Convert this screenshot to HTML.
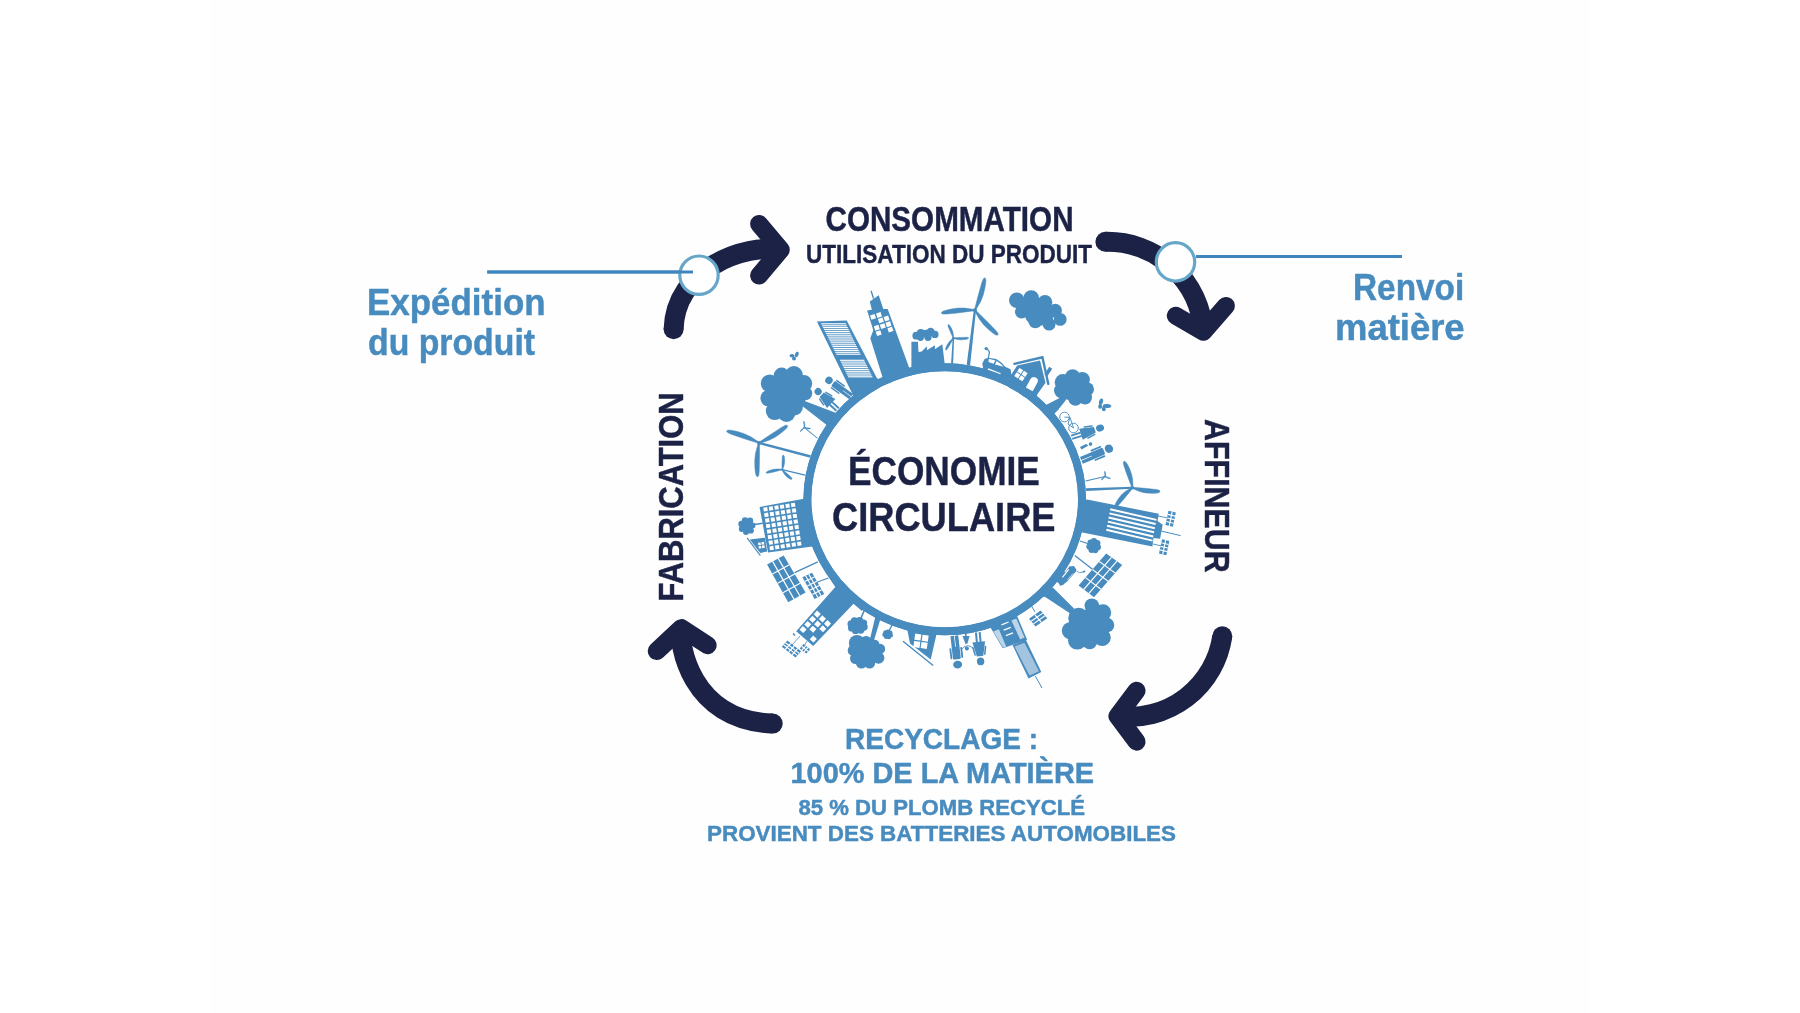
<!DOCTYPE html>
<html><head><meta charset="utf-8"><title>Economie circulaire</title>
<style>
html,body{margin:0;padding:0;width:1800px;height:1013px;overflow:hidden;background:#ffffff}
svg{position:absolute;left:0;top:0;display:block}
text{font-family:"Liberation Sans",sans-serif;font-weight:bold;paint-order:stroke;stroke-width:0.45px;stroke-linejoin:round}
svg{will-change:transform}
</style></head><body>
<svg width="1800" height="1013" viewBox="0 0 1800 1013">
<rect x="0" y="0" width="1800" height="1013" fill="#ffffff"/>
<rect x="210" y="0" width="1379" height="1013" fill="#fefefe"/>
<g fill="#1b2245"><circle cx="673.6" cy="329.3" r="10"/><circle cx="1105.4" cy="241.8" r="10"/><circle cx="1222.3" cy="636.3" r="10"/><circle cx="772.7" cy="723.6" r="10"/></g>
<g fill="none" stroke="#1b2245" stroke-width="20" stroke-linecap="butt" stroke-linejoin="round">
<path d="M673.6,329.3 C675.3,268.1 745.2,243.6 780.8,249.7"/>
<path d="M1105.4,241.8 A96.2,96.2 0 0 1 1203.3,331.8"/>
<path d="M1222.3,636.3 A94.2,94.2 0 0 1 1117.5,716.2"/>
<path d="M772.7,723.6 C689.6,720.6 678.2,642.1 681.3,628.1"/>
</g>
<g fill="none" stroke="#1b2245" stroke-width="18" stroke-linecap="round" stroke-linejoin="round">
<polyline points="759.1,224 780.8,249.7 759.1,275.5"/>
<polyline points="1175.8,315.8 1203.3,331.8 1225.9,305.9"/>
<polyline points="1136.6,690.7 1117.5,716.2 1136.6,741.7"/>
<polyline points="656.7,651.1 681.3,628.1 707.7,645.2"/>
</g>

<line x1="487.3" y1="272" x2="693" y2="272" stroke="#3f86bd" stroke-width="3"/>
<circle cx="699" cy="275.2" r="19.2" fill="#fff" stroke="#66a6c8" stroke-width="3.2"/>
<line x1="487.3" y1="272" x2="693" y2="272" stroke="#3f86bd" stroke-width="3"/>
<line x1="1196" y1="256.4" x2="1402" y2="256.4" stroke="#3f86bd" stroke-width="3"/>
<circle cx="1175.5" cy="261.9" r="19.2" fill="#fff" stroke="#66a6c8" stroke-width="3.2"/>

<ellipse cx="944.7" cy="499.3" rx="137.3" ry="132" fill="none" stroke="#478bbf" stroke-width="8"/>
<polygon points="816.9,321.5 846.7,320.6 877.0,378.3 885.0,382.0 862.0,402.0 853.2,395.5" fill="#478bbf"/>
<line x1="821.2" y1="323.8" x2="846.0" y2="323.8" stroke="#ffffff" stroke-width="1.15" stroke-linecap="butt"/><line x1="822.1" y1="325.8" x2="846.9" y2="325.8" stroke="#ffffff" stroke-width="1.15" stroke-linecap="butt"/><line x1="823.1" y1="327.6" x2="847.8" y2="327.6" stroke="#ffffff" stroke-width="1.15" stroke-linecap="butt"/><line x1="824.0" y1="329.5" x2="848.7" y2="329.5" stroke="#ffffff" stroke-width="1.15" stroke-linecap="butt"/><line x1="824.9" y1="331.4" x2="849.6" y2="331.4" stroke="#ffffff" stroke-width="1.15" stroke-linecap="butt"/><line x1="825.9" y1="333.3" x2="850.5" y2="333.3" stroke="#ffffff" stroke-width="1.15" stroke-linecap="butt"/><line x1="826.8" y1="335.2" x2="851.4" y2="335.2" stroke="#ffffff" stroke-width="1.15" stroke-linecap="butt"/><line x1="827.8" y1="337.1" x2="852.3" y2="337.1" stroke="#ffffff" stroke-width="1.15" stroke-linecap="butt"/><line x1="828.7" y1="339.0" x2="853.2" y2="339.0" stroke="#ffffff" stroke-width="1.15" stroke-linecap="butt"/><line x1="829.6" y1="340.9" x2="854.2" y2="340.9" stroke="#ffffff" stroke-width="1.15" stroke-linecap="butt"/><line x1="830.6" y1="342.8" x2="855.1" y2="342.8" stroke="#ffffff" stroke-width="1.15" stroke-linecap="butt"/><line x1="831.5" y1="344.8" x2="856.0" y2="344.8" stroke="#ffffff" stroke-width="1.15" stroke-linecap="butt"/><line x1="832.5" y1="346.6" x2="856.9" y2="346.6" stroke="#ffffff" stroke-width="1.15" stroke-linecap="butt"/><line x1="833.4" y1="348.6" x2="857.8" y2="348.6" stroke="#ffffff" stroke-width="1.15" stroke-linecap="butt"/><line x1="834.3" y1="350.4" x2="858.7" y2="350.4" stroke="#ffffff" stroke-width="1.15" stroke-linecap="butt"/><line x1="835.3" y1="352.3" x2="859.6" y2="352.3" stroke="#ffffff" stroke-width="1.15" stroke-linecap="butt"/><line x1="836.2" y1="354.2" x2="860.5" y2="354.2" stroke="#ffffff" stroke-width="1.15" stroke-linecap="butt"/>
<line x1="840.0" y1="360.3" x2="864.3" y2="360.3" stroke="#ffffff" stroke-width="1.15" stroke-linecap="butt"/><line x1="840.9" y1="362.1" x2="865.2" y2="362.1" stroke="#ffffff" stroke-width="1.15" stroke-linecap="butt"/><line x1="841.8" y1="364.0" x2="866.1" y2="364.0" stroke="#ffffff" stroke-width="1.15" stroke-linecap="butt"/><line x1="842.7" y1="365.8" x2="867.0" y2="365.8" stroke="#ffffff" stroke-width="1.15" stroke-linecap="butt"/><line x1="843.6" y1="367.6" x2="867.9" y2="367.6" stroke="#ffffff" stroke-width="1.15" stroke-linecap="butt"/><line x1="844.5" y1="369.5" x2="868.8" y2="369.5" stroke="#ffffff" stroke-width="1.15" stroke-linecap="butt"/><line x1="845.4" y1="371.3" x2="869.7" y2="371.3" stroke="#ffffff" stroke-width="1.15" stroke-linecap="butt"/><line x1="846.3" y1="373.1" x2="870.6" y2="373.1" stroke="#ffffff" stroke-width="1.15" stroke-linecap="butt"/><line x1="847.2" y1="375.0" x2="871.5" y2="375.0" stroke="#ffffff" stroke-width="1.15" stroke-linecap="butt"/><line x1="848.1" y1="376.8" x2="872.4" y2="376.8" stroke="#ffffff" stroke-width="1.15" stroke-linecap="butt"/>
<polygon points="869.8,301.4 878.7,295.2 883.3,309.0 887.7,309.0 908.9,367.1 912.0,376.0 884.0,385.0 882.3,376.6 870.3,338.3 873.3,330.2 867.1,310.6 871.9,309.8" fill="#478bbf"/>
<line x1="871.1" y1="290.8" x2="873.5" y2="298.5" stroke="#478bbf" stroke-width="1.3" stroke-linecap="butt"/>
<rect x="870.6" y="314.6" width="4.8" height="4.6" fill="#ffffff" transform="rotate(-18 873.0 316.9)" />
<rect x="876.6" y="312.7" width="4.8" height="4.6" fill="#ffffff" transform="rotate(-18 879.0 315.0)" />
<rect x="878.5" y="318.1" width="4.8" height="4.6" fill="#ffffff" transform="rotate(-18 880.9 320.4)" />
<rect x="884.2" y="316.2" width="4.8" height="4.6" fill="#ffffff" transform="rotate(-18 886.6 318.5)" />
<rect x="874.4" y="325.4" width="4.8" height="4.6" fill="#ffffff" transform="rotate(-18 876.8 327.7)" />
<rect x="880.4" y="323.8" width="4.8" height="4.6" fill="#ffffff" transform="rotate(-18 882.8 326.1)" />
<rect x="886.1" y="321.9" width="4.8" height="4.6" fill="#ffffff" transform="rotate(-18 888.5 324.2)" />
<rect x="876.3" y="330.8" width="4.8" height="4.6" fill="#ffffff" transform="rotate(-18 878.7 333.1)" />
<rect x="888.0" y="327.3" width="4.8" height="4.6" fill="#ffffff" transform="rotate(-18 890.4 329.6)" />
<polygon points="911.4,341.7 917.9,341.7 918.5,352.0 921.7,351.4 926.9,346.2 926.9,350.2 934.9,345.2 934.9,349.2 942.3,344.2 944.5,362.3 944.5,370.0 911.4,372.0" fill="#478bbf"/>
<circle cx="916.3" cy="335.7" r="3.9" fill="#478bbf"/><circle cx="920.8" cy="332.9" r="4.0" fill="#478bbf"/><circle cx="925.8" cy="333.6" r="3.9" fill="#478bbf"/><circle cx="930.6" cy="331.9" r="4.2" fill="#478bbf"/><circle cx="934.9" cy="334.4" r="3.7" fill="#478bbf"/><circle cx="920.5" cy="337.6" r="3.4" fill="#478bbf"/><circle cx="928.0" cy="337.3" r="3.6" fill="#478bbf"/>
<polygon points="953.1,364.1 954.1,338.2 952.7,338.2 951.1,363.9" fill="#478bbf"/><polygon points="953.7,338.1 953.5,336.3 953.2,333.6 952.5,330.8 951.3,328.1 950.1,326.1 949.3,325.0 948.6,324.5 948.1,324.7 947.9,325.4 948.4,326.9 949.7,330.3 951.1,333.6 952.5,336.7 953.1,338.3" fill="#478bbf" stroke="#478bbf" stroke-width="0.5" stroke-linejoin="round"/><polygon points="953.4,338.5 955.2,339.0 958.0,339.6 961.0,339.8 964.1,339.6 966.5,339.2 967.9,338.8 968.6,338.3 968.6,337.8 968.0,337.4 966.3,337.3 962.5,337.4 958.7,337.6 955.2,337.8 953.4,337.9" fill="#478bbf" stroke="#478bbf" stroke-width="0.5" stroke-linejoin="round"/><polygon points="953.1,338.0 951.8,339.2 949.9,341.0 948.2,343.2 946.8,345.6 945.9,347.7 945.6,349.0 945.6,349.8 946.1,350.1 946.7,349.8 947.6,348.6 949.5,345.6 951.2,342.6 952.8,339.8 953.7,338.4" fill="#478bbf" stroke="#478bbf" stroke-width="0.5" stroke-linejoin="round"/><circle cx="953.4" cy="338.2" r="1.35" fill="#478bbf"/>
<polygon points="970.1,365.2 976.0,310.3 973.8,310.1 966.7,364.8" fill="#478bbf"/><polygon points="975.5,310.4 977.6,306.8 980.7,301.4 983.2,295.1 984.8,288.6 985.7,283.2 985.9,280.1 985.4,278.2 984.4,277.9 983.3,278.9 981.9,282.4 979.6,290.5 977.4,298.6 975.5,306.1 974.3,310.0" fill="#478bbf" stroke="#478bbf" stroke-width="0.5" stroke-linejoin="round"/><polygon points="974.8,309.6 970.8,308.9 964.7,308.1 958.0,308.1 951.3,309.0 946.1,310.2 943.1,311.2 941.5,312.3 941.6,313.5 943.0,314.1 946.7,314.0 955.0,313.2 963.3,312.2 971.0,311.2 975.0,310.8" fill="#478bbf" stroke="#478bbf" stroke-width="0.5" stroke-linejoin="round"/><polygon points="974.5,310.6 976.5,314.2 979.6,319.6 983.8,324.9 988.6,329.6 992.8,333.0 995.4,334.7 997.3,335.3 998.1,334.5 997.8,333.0 995.4,330.1 989.6,324.1 983.6,318.1 978.1,312.7 975.3,309.8" fill="#478bbf" stroke="#478bbf" stroke-width="0.5" stroke-linejoin="round"/><circle cx="974.9" cy="310.2" r="1.9800000000000002" fill="#478bbf"/>
<polygon points="982.3,363.6 984.6,359.1 988.3,357.8 996.3,359.1 1001.7,362.7 1005.2,366.7 1010.6,369.3 1011.0,372.0 1012.0,378.0 990.0,378.0 983.0,368.0" fill="#478bbf"/><polygon points="988.8,358.8 995.5,360.5 993.5,363.8 988.5,362.0" fill="#ffffff"/><polygon points="996.6,361.0 1001.0,364.0 1003.5,366.8 995.0,364.5" fill="#ffffff"/><polygon points="988.4,368.2 1000.8,373.2 999.8,375.2 987.4,370.0" fill="#ffffff"/>
<path d="M988.3,358 L989.4,353 Q989.5,350.5 986.5,348.8" fill="none" stroke="#478bbf" stroke-width="1.2"/>
<circle cx="986.2" cy="348.6" r="1.7" fill="#478bbf"/>
<polygon points="1009.6,377.3 1017.2,365.6 1040.0,360.4 1045.5,382.8 1037.2,394.6 1036.0,401.0 1008.0,392.0" fill="#478bbf"/>
<polyline points="1014.4,363.8 1042.4,357.3 1048.3,383.9" fill="none" stroke="#478bbf" stroke-width="2.4" stroke-linecap="round"/>
<rect x="1046.5" y="367.0" width="3.6" height="9.0" fill="#478bbf" transform="rotate(33 1048.3 371.5)" />
<path d="M-3.9,5 L-3.9,-4.5 A3.9,3.9 0 0 1 3.9,-4.5 L3.9,5Z" fill="#ffffff" transform="translate(1031.7,384.9) rotate(29)"/>
<g transform="rotate(33 1021.0 374.6)"><rect x="1016.1" y="369.8" width="4.4" height="4.4" fill="#ffffff"/><rect x="1021.4" y="369.8" width="4.4" height="4.4" fill="#ffffff"/><rect x="1016.1" y="375.1" width="4.4" height="4.4" fill="#ffffff"/><rect x="1021.4" y="375.1" width="4.4" height="4.4" fill="#ffffff"/></g>
<circle cx="1038.0" cy="312.0" r="14.0" fill="#478bbf"/><circle cx="1016.8" cy="300.2" r="7.8" fill="#478bbf"/><circle cx="1031.2" cy="298.0" r="7.8" fill="#478bbf"/><circle cx="1045.0" cy="302.2" r="7.3" fill="#478bbf"/><circle cx="1055.3" cy="310.4" r="6.6" fill="#478bbf"/><circle cx="1060.2" cy="319.4" r="6.4" fill="#478bbf"/><circle cx="1049.1" cy="324.2" r="6.4" fill="#478bbf"/><circle cx="1035.3" cy="321.5" r="6.8" fill="#478bbf"/><circle cx="1021.5" cy="311.8" r="6.6" fill="#478bbf"/><circle cx="1024.0" cy="306.0" r="7.0" fill="#478bbf"/><circle cx="1047.0" cy="313.0" r="8.0" fill="#478bbf"/>
<polygon points="1063.5,396.0 1067.5,398.0 1058.0,410.0 1052.0,416.0 1044.0,406.0" fill="#478bbf"/>
<circle cx="1074.0" cy="389.2" r="12.4" fill="#478bbf"/><circle cx="1063.0" cy="382.3" r="8.3" fill="#478bbf"/><circle cx="1072.6" cy="376.8" r="7.6" fill="#478bbf"/><circle cx="1082.3" cy="379.5" r="7.6" fill="#478bbf"/><circle cx="1087.1" cy="389.2" r="6.9" fill="#478bbf"/><circle cx="1085.1" cy="397.5" r="6.9" fill="#478bbf"/><circle cx="1075.4" cy="398.9" r="6.9" fill="#478bbf"/><circle cx="1061.6" cy="390.6" r="7.6" fill="#478bbf"/>
<ellipse cx="1101" cy="401.8" rx="2" ry="3.4" transform="rotate(15 1101 401.8)" fill="#478bbf"/><ellipse cx="1107" cy="406" rx="4.3" ry="2" transform="rotate(5 1107 406)" fill="#478bbf"/><ellipse cx="1100.2" cy="406.5" rx="2" ry="2.2" fill="#478bbf"/><ellipse cx="1103.8" cy="409" rx="2" ry="2.2" fill="#478bbf"/>
<circle cx="1064.5" cy="417" r="4.8" fill="none" stroke="#478bbf" stroke-width="0.9"/>
<circle cx="1073.5" cy="428" r="4.8" fill="none" stroke="#478bbf" stroke-width="0.9"/>
<polyline points="1064.5,417 1070,417.5 1073.5,428 1068,424 1070,417.5" fill="none" stroke="#478bbf" stroke-width="0.9"/>
<g transform="translate(1071.6 437.3) rotate(72.0) scale(1.10 1.30)" fill="#478bbf"><circle cx="0" cy="-23" r="3.1"/><polygon points="-2.7,-18.8 2.7,-18.8 5.3,-7.6 -5.3,-7.6"/><rect x="-4.6" y="-18.2" width="1.3" height="7.2" rx="0.6" transform="rotate(12 -4 -18)"/><rect x="3.3" y="-18.2" width="1.3" height="7.2" rx="0.6" transform="rotate(-12 4 -18)"/><rect x="-2.4" y="-7.8" width="1.7" height="7.8"/><rect x="0.7" y="-7.8" width="1.7" height="7.8"/></g>
<g transform="translate(1081.4 460.4) rotate(67.0) scale(1.35 1.30)" fill="#478bbf"><circle cx="0" cy="-23" r="3.1"/><rect x="-2.7" y="-18.8" width="5.4" height="10" rx="1.1"/><rect x="-4.4" y="-18.2" width="1.25" height="8.8" rx="0.6"/><rect x="3.15" y="-18.2" width="1.25" height="8.8" rx="0.6"/><rect x="-2.7" y="-9.6" width="2.45" height="9.6"/><rect x="0.25" y="-9.6" width="2.45" height="9.6"/></g>
<circle cx="1090.5" cy="444.1" r="1.8" fill="#478bbf"/>
<polygon points="1080.0,447.0 1086.0,444.0 1088.5,445.5 1081.5,449.5" fill="#478bbf"/>
<polygon points="1085.7,481.5 1105.3,476.9 1105.1,476.1 1085.5,480.5" fill="#478bbf"/><polygon points="1105.3,476.5 1105.5,475.9 1105.7,474.9 1105.7,473.9 1105.5,472.9 1105.3,472.1 1105.1,471.6 1104.8,471.4 1104.6,471.4 1104.5,471.6 1104.5,472.2 1104.6,473.5 1104.8,474.7 1105.0,475.9 1105.1,476.5" fill="#478bbf" stroke="#478bbf" stroke-width="0.5" stroke-linejoin="round"/><polygon points="1105.2,476.6 1105.7,477.1 1106.6,477.7 1107.6,478.2 1108.7,478.5 1109.6,478.7 1110.1,478.7 1110.5,478.6 1110.5,478.4 1110.4,478.2 1109.8,477.9 1108.5,477.4 1107.1,477.0 1105.9,476.6 1105.2,476.4" fill="#478bbf" stroke="#478bbf" stroke-width="0.5" stroke-linejoin="round"/><polygon points="1105.1,476.4 1104.5,476.7 1103.7,477.1 1102.9,477.7 1102.2,478.5 1101.7,479.1 1101.4,479.6 1101.4,479.9 1101.6,480.1 1101.8,480.0 1102.3,479.7 1103.2,478.8 1104.0,477.9 1104.9,477.0 1105.3,476.6" fill="#478bbf" stroke="#478bbf" stroke-width="0.5" stroke-linejoin="round"/><circle cx="1105.2" cy="476.5" r="1" fill="#478bbf"/>
<polygon points="1086.1,490.9 1132.4,488.8 1132.4,486.8 1085.9,488.3" fill="#478bbf"/><polygon points="1132.9,487.6 1132.9,484.2 1132.6,479.1 1131.4,473.7 1129.5,468.5 1127.5,464.5 1126.0,462.3 1124.7,461.3 1123.7,461.6 1123.3,462.9 1124.0,465.9 1126.2,472.4 1128.6,478.9 1130.8,484.8 1131.9,488.0" fill="#478bbf" stroke="#478bbf" stroke-width="0.5" stroke-linejoin="round"/><polygon points="1132.3,488.4 1135.5,489.8 1140.3,491.7 1145.7,492.9 1151.3,493.3 1155.8,493.2 1158.3,492.8 1159.8,492.0 1160.0,491.0 1158.9,490.1 1156.0,489.5 1149.1,488.7 1142.1,488.1 1135.8,487.6 1132.5,487.2" fill="#478bbf" stroke="#478bbf" stroke-width="0.5" stroke-linejoin="round"/><polygon points="1132.0,487.4 1129.2,489.0 1125.3,491.5 1121.5,494.8 1118.4,498.7 1116.2,502.2 1115.3,504.3 1115.1,505.9 1115.9,506.6 1117.1,506.3 1119.2,504.5 1123.3,499.8 1127.2,494.9 1130.9,490.4 1132.8,488.2" fill="#478bbf" stroke="#478bbf" stroke-width="0.5" stroke-linejoin="round"/><circle cx="1132.4" cy="487.8" r="1.8" fill="#478bbf"/>
<polygon points="1087.0,499.6 1158.8,513.7 1157.5,521.0 1162.7,524.7 1160.1,538.8 1153.5,538.0 1152.4,546.5 1082.5,532.4 1078.0,530.0 1078.0,502.0" fill="#478bbf"/>
<line x1="1110.2" y1="509.3" x2="1156.4" y2="519.9" stroke="#ffffff" stroke-width="2.0" stroke-linecap="butt"/>
<line x1="1109.4" y1="513.4" x2="1155.6" y2="524.0" stroke="#ffffff" stroke-width="2.0" stroke-linecap="butt"/>
<line x1="1108.6" y1="517.5" x2="1154.8" y2="528.2" stroke="#ffffff" stroke-width="2.0" stroke-linecap="butt"/>
<line x1="1107.9" y1="521.6" x2="1154.1" y2="532.3" stroke="#ffffff" stroke-width="2.0" stroke-linecap="butt"/>
<line x1="1107.1" y1="525.7" x2="1153.3" y2="536.5" stroke="#ffffff" stroke-width="2.0" stroke-linecap="butt"/>
<line x1="1106.3" y1="529.8" x2="1152.5" y2="540.6" stroke="#ffffff" stroke-width="2.0" stroke-linecap="butt"/>
<line x1="1161.4" y1="531.1" x2="1180.6" y2="535.6" stroke="#478bbf" stroke-width="1.0" stroke-linecap="butt"/>
<line x1="1158.0" y1="516.0" x2="1168.0" y2="518.0" stroke="#478bbf" stroke-width="0.9" stroke-linecap="butt"/>
<line x1="1153.0" y1="544.0" x2="1162.0" y2="546.0" stroke="#478bbf" stroke-width="0.9" stroke-linecap="butt"/>
<polygon points="1168.5,510.8 1175.8,512.5 1172.8,526.8 1165.5,525.1" fill="#478bbf"/><line x1="1172.2" y1="511.6" x2="1169.2" y2="526.0" stroke="#ffffff" stroke-width="1.15" stroke-linecap="butt"/><line x1="1167.8" y1="514.4" x2="1175.0" y2="516.1" stroke="#ffffff" stroke-width="1.15" stroke-linecap="butt"/><line x1="1167.0" y1="518.0" x2="1174.3" y2="519.6" stroke="#ffffff" stroke-width="1.15" stroke-linecap="butt"/><line x1="1166.2" y1="521.5" x2="1173.5" y2="523.2" stroke="#ffffff" stroke-width="1.15" stroke-linecap="butt"/>
<polygon points="1162.0,539.2 1169.3,540.9 1166.3,555.2 1159.0,553.5" fill="#478bbf"/><line x1="1165.7" y1="540.0" x2="1162.7" y2="554.4" stroke="#ffffff" stroke-width="1.15" stroke-linecap="butt"/><line x1="1161.2" y1="542.8" x2="1168.5" y2="544.5" stroke="#ffffff" stroke-width="1.15" stroke-linecap="butt"/><line x1="1160.5" y1="546.4" x2="1167.8" y2="548.0" stroke="#ffffff" stroke-width="1.15" stroke-linecap="butt"/><line x1="1159.8" y1="549.9" x2="1167.0" y2="551.6" stroke="#ffffff" stroke-width="1.15" stroke-linecap="butt"/>
<line x1="1080.0" y1="541.0" x2="1089.0" y2="544.0" stroke="#478bbf" stroke-width="1.3" stroke-linecap="butt"/>
<ellipse cx="1093.7" cy="545.8" rx="5.9" ry="6.2" fill="#478bbf" transform="rotate(0 1093.7 545.8)"/><circle cx="1097.8" cy="547.2" r="3.1" fill="#478bbf"/><circle cx="1095.3" cy="550.1" r="3.1" fill="#478bbf"/><circle cx="1091.5" cy="549.8" r="3.1" fill="#478bbf"/><circle cx="1089.4" cy="546.5" r="3.1" fill="#478bbf"/><circle cx="1090.6" cy="542.7" r="3.1" fill="#478bbf"/><circle cx="1094.0" cy="541.2" r="3.1" fill="#478bbf"/><circle cx="1097.3" cy="543.2" r="3.1" fill="#478bbf"/>
<line x1="1074.8" y1="555.5" x2="1094.7" y2="570.9" stroke="#478bbf" stroke-width="1.3" stroke-linecap="butt"/>
<polygon points="1106.2,553.5 1122.2,565.1 1094.0,597.2 1078.6,585.6" fill="#478bbf"/><line x1="1111.5" y1="557.4" x2="1083.7" y2="589.5" stroke="#ffffff" stroke-width="1.15" stroke-linecap="butt"/><line x1="1116.9" y1="561.2" x2="1088.9" y2="593.3" stroke="#ffffff" stroke-width="1.15" stroke-linecap="butt"/><line x1="1099.3" y1="561.5" x2="1115.2" y2="573.1" stroke="#ffffff" stroke-width="1.15" stroke-linecap="butt"/><line x1="1092.4" y1="569.5" x2="1108.1" y2="581.2" stroke="#ffffff" stroke-width="1.15" stroke-linecap="butt"/><line x1="1085.5" y1="577.6" x2="1101.0" y2="589.2" stroke="#ffffff" stroke-width="1.15" stroke-linecap="butt"/>
<polygon points="1069.2,566.4 1073.9,566.0 1076.3,569.6 1075.9,571.6 1073.1,574.7 1067.6,581.0 1062.9,585.0 1060.1,585.8 1058.9,583.4 1055.0,580.0 1061.0,573.0 1066.0,571.6" fill="#478bbf"/>
<line x1="1068.8" y1="569.4" x2="1062.4" y2="577.4" stroke="#ffffff" stroke-width="1.2" stroke-linecap="butt"/>
<line x1="1073.0" y1="573.5" x2="1067.5" y2="579.8" stroke="#ffffff" stroke-width="0.7" stroke-linecap="butt"/>
<path d="M1076.4,571 Q1079,574 1083.5,572" fill="none" stroke="#478bbf" stroke-width="0.8"/><ellipse cx="1084" cy="571.6" rx="1.4" ry="0.9" transform="rotate(-20 1084 571.6)" fill="#478bbf"/>
<polygon points="1040.0,583.0 1053.1,587.8 1074.0,608.5 1071.0,614.0 1044.8,596.7 1034.0,598.0" fill="#478bbf"/>
<circle cx="1089.7" cy="626.5" r="17.0" fill="#478bbf"/><circle cx="1091.8" cy="605.7" r="7.3" fill="#478bbf"/><circle cx="1102.9" cy="612.6" r="8.3" fill="#478bbf"/><circle cx="1107.0" cy="625.1" r="7.3" fill="#478bbf"/><circle cx="1102.2" cy="637.5" r="8.6" fill="#478bbf"/><circle cx="1089.7" cy="641.6" r="7.6" fill="#478bbf"/><circle cx="1077.3" cy="640.3" r="9.3" fill="#478bbf"/><circle cx="1070.4" cy="630.6" r="8.6" fill="#478bbf"/><circle cx="1078.7" cy="618.2" r="10.4" fill="#478bbf"/>
<line x1="1030.4" y1="604.0" x2="1035.0" y2="612.0" stroke="#478bbf" stroke-width="1.0" stroke-linecap="butt"/>
<polygon points="1040.6,610.5 1047.2,618.3 1035.6,626.5 1029.0,618.7" fill="#478bbf"/><line x1="1042.8" y1="613.1" x2="1031.2" y2="621.3" stroke="#ffffff" stroke-width="1.15" stroke-linecap="butt"/><line x1="1045.0" y1="615.7" x2="1033.4" y2="623.9" stroke="#ffffff" stroke-width="1.15" stroke-linecap="butt"/><line x1="1034.8" y1="614.6" x2="1041.4" y2="622.4" stroke="#ffffff" stroke-width="1.15" stroke-linecap="butt"/>
<polygon points="989.0,625.0 1016.3,614.0 1027.2,639.9 1002.8,648.3" fill="#478bbf"/>
<polygon points="993.4,631.5 998.9,629.3 1006.2,646.5 1003.2,647.8" fill="#bcd5e8"/>
<polygon points="1011.4,620.5 1016.3,618.6 1024.5,637.6 1020.2,639.4" fill="#bcd5e8"/>
<line x1="1001.5" y1="624.8" x2="1008.6" y2="622.0" stroke="#ffffff" stroke-width="1.3" stroke-linecap="butt"/>
<line x1="1003.7" y1="630.2" x2="1010.8" y2="627.4" stroke="#ffffff" stroke-width="1.3" stroke-linecap="butt"/>
<line x1="1005.9" y1="635.6" x2="1013.0" y2="632.8" stroke="#ffffff" stroke-width="1.3" stroke-linecap="butt"/>
<polygon points="1012.5,645.1 1025.9,639.9 1041.3,672.0 1028.5,678.4" fill="#478bbf"/>
<polygon points="1014.6,646.6 1024.4,642.8 1039.0,671.2 1029.5,675.6" fill="#a3c4df"/>
<line x1="1035.3" y1="676.0" x2="1042.0" y2="688.0" stroke="#478bbf" stroke-width="1.0" stroke-linecap="butt"/>
<g transform="translate(954.3 635.8) rotate(173.4) scale(1.45 1.26)" fill="#478bbf"><circle cx="0" cy="-23" r="3.1"/><rect x="-2.7" y="-18.8" width="5.4" height="10" rx="1.1"/><rect x="-4.4" y="-18.2" width="1.25" height="8.8" rx="0.6"/><rect x="3.15" y="-18.2" width="1.25" height="8.8" rx="0.6"/><rect x="-2.7" y="-9.6" width="2.45" height="9.6"/><rect x="0.25" y="-9.6" width="2.45" height="9.6"/></g>
<g transform="translate(977.8 632.3) rotate(174.5) scale(1.20 1.27)" fill="#478bbf"><circle cx="0" cy="-23" r="3.1"/><polygon points="-2.7,-18.8 2.7,-18.8 5.3,-7.6 -5.3,-7.6"/><rect x="-4.6" y="-18.2" width="1.3" height="7.2" rx="0.6" transform="rotate(12 -4 -18)"/><rect x="3.3" y="-18.2" width="1.3" height="7.2" rx="0.6" transform="rotate(-12 4 -18)"/><rect x="-2.4" y="-7.8" width="1.7" height="7.8"/><rect x="0.7" y="-7.8" width="1.7" height="7.8"/></g>
<polygon points="962.5,636.0 969.5,636.0 967.5,643.5 965.5,644.0" fill="#478bbf"/>
<line x1="965.5" y1="633.0" x2="966.0" y2="637.0" stroke="#478bbf" stroke-width="1.6" stroke-linecap="butt"/>
<circle cx="966.9" cy="648.4" r="2" fill="#478bbf"/>
<path d="M961,650 Q966.5,642.5 973,648" fill="none" stroke="#478bbf" stroke-width="0.9"/>
<polygon points="907.0,628.0 937.0,632.0 930.7,659.6 910.0,643.5" fill="#478bbf"/>
<line x1="903.0" y1="641.3" x2="933.2" y2="665.5" stroke="#478bbf" stroke-width="1.4" stroke-linecap="butt"/>
<g transform="rotate(8 921.0 641.3)"><rect x="914.2" y="634.5" width="6.2" height="6.2" fill="#ffffff"/><rect x="921.6" y="634.5" width="6.2" height="6.2" fill="#ffffff"/><rect x="914.2" y="641.9" width="6.2" height="6.2" fill="#ffffff"/><rect x="921.6" y="641.9" width="6.2" height="6.2" fill="#ffffff"/></g>
<polygon points="876.0,614.0 881.0,617.0 873.5,642.0 869.5,641.0" fill="#478bbf"/>
<circle cx="865.9" cy="651.9" r="12.6" fill="#478bbf"/><circle cx="857.0" cy="643.0" r="8.1" fill="#478bbf"/><circle cx="853.3" cy="650.4" r="5.6" fill="#478bbf"/><circle cx="855.6" cy="658.5" r="5.6" fill="#478bbf"/><circle cx="861.5" cy="663.0" r="5.6" fill="#478bbf"/><circle cx="869.6" cy="663.0" r="5.6" fill="#478bbf"/><circle cx="878.5" cy="657.8" r="5.9" fill="#478bbf"/><circle cx="880.0" cy="648.9" r="5.2" fill="#478bbf"/><circle cx="874.8" cy="644.4" r="4.6" fill="#478bbf"/><circle cx="866.0" cy="642.0" r="6.0" fill="#478bbf"/>
<line x1="864.5" y1="610.0" x2="860.5" y2="619.0" stroke="#478bbf" stroke-width="1.6" stroke-linecap="butt"/>
<ellipse cx="857.6" cy="625.5" rx="8.3" ry="7.0" fill="#478bbf" transform="rotate(0 857.6 625.5)"/><circle cx="864.0" cy="627.0" r="3.7" fill="#478bbf"/><circle cx="860.7" cy="630.0" r="3.7" fill="#478bbf"/><circle cx="855.6" cy="630.4" r="3.7" fill="#478bbf"/><circle cx="851.7" cy="627.9" r="3.7" fill="#478bbf"/><circle cx="851.2" cy="624.0" r="3.7" fill="#478bbf"/><circle cx="854.5" cy="621.0" r="3.7" fill="#478bbf"/><circle cx="859.6" cy="620.6" r="3.7" fill="#478bbf"/><circle cx="863.5" cy="623.1" r="3.7" fill="#478bbf"/>
<line x1="892.0" y1="625.0" x2="888.5" y2="632.0" stroke="#478bbf" stroke-width="1.4" stroke-linecap="butt"/>
<ellipse cx="887.7" cy="634.4" rx="4.3" ry="4.0" fill="#478bbf" transform="rotate(0 887.7 634.4)"/><circle cx="890.8" cy="635.2" r="2.2" fill="#478bbf"/><circle cx="888.9" cy="637.0" r="2.2" fill="#478bbf"/><circle cx="886.1" cy="636.8" r="2.2" fill="#478bbf"/><circle cx="884.5" cy="634.8" r="2.2" fill="#478bbf"/><circle cx="885.4" cy="632.5" r="2.2" fill="#478bbf"/><circle cx="887.9" cy="631.6" r="2.2" fill="#478bbf"/><circle cx="890.3" cy="632.8" r="2.2" fill="#478bbf"/>
<polygon points="828.0,576.0 835.3,587.1 796.2,631.3 813.2,646.0 853.5,603.7 862.0,611.0 872.0,592.0" fill="#478bbf"/>
<g transform="rotate(42.7 815.3 626.6)"><rect x="805.8" y="613.6" width="5.0" height="5.0" fill="#ffffff"/><rect x="812.8" y="613.6" width="5.0" height="5.0" fill="#ffffff"/><rect x="819.8" y="613.6" width="5.0" height="5.0" fill="#ffffff"/><rect x="805.8" y="620.6" width="5.0" height="5.0" fill="#ffffff"/><rect x="812.8" y="620.6" width="5.0" height="5.0" fill="#ffffff"/><rect x="819.8" y="620.6" width="5.0" height="5.0" fill="#ffffff"/><rect x="805.8" y="627.6" width="5.0" height="5.0" fill="#ffffff"/><rect x="812.8" y="627.6" width="5.0" height="5.0" fill="#ffffff"/><rect x="805.8" y="634.6" width="5.0" height="5.0" fill="#ffffff"/><rect x="819.8" y="634.6" width="5.0" height="5.0" fill="#ffffff"/></g>
<line x1="800.0" y1="636.0" x2="792.0" y2="645.0" stroke="#478bbf" stroke-width="0.8" stroke-linecap="butt"/>
<line x1="807.0" y1="641.0" x2="803.0" y2="648.0" stroke="#478bbf" stroke-width="0.8" stroke-linecap="butt"/>
<polygon points="787.3,640.6 801.1,651.3 795.6,657.5 781.8,646.8" fill="#478bbf"/><line x1="790.8" y1="643.3" x2="785.2" y2="649.5" stroke="#ffffff" stroke-width="1.15" stroke-linecap="butt"/><line x1="794.2" y1="646.0" x2="788.7" y2="652.1" stroke="#ffffff" stroke-width="1.15" stroke-linecap="butt"/><line x1="797.6" y1="648.6" x2="792.1" y2="654.8" stroke="#ffffff" stroke-width="1.15" stroke-linecap="butt"/><line x1="785.5" y1="642.7" x2="799.3" y2="653.4" stroke="#ffffff" stroke-width="1.15" stroke-linecap="butt"/><line x1="783.6" y1="644.7" x2="797.4" y2="655.4" stroke="#ffffff" stroke-width="1.15" stroke-linecap="butt"/>
<polygon points="803.6,644.1 810.2,649.2 806.3,653.6 799.7,648.5" fill="#478bbf"/><line x1="805.8" y1="645.8" x2="801.9" y2="650.2" stroke="#ffffff" stroke-width="1.15" stroke-linecap="butt"/><line x1="808.0" y1="647.5" x2="804.1" y2="651.9" stroke="#ffffff" stroke-width="1.15" stroke-linecap="butt"/><line x1="801.7" y1="646.3" x2="808.2" y2="651.4" stroke="#ffffff" stroke-width="1.15" stroke-linecap="butt"/>
<rect x="793.2" y="633.2" width="1.6" height="2.6" fill="#478bbf" transform="rotate(-40 794.0 634.5)" />
<line x1="794.7" y1="572.7" x2="817.8" y2="561.8" stroke="#478bbf" stroke-width="1.3" stroke-linecap="butt"/>
<polygon points="767.1,564.4 783.7,555.4 805.6,592.6 788.2,602.3" fill="#478bbf"/><line x1="772.6" y1="561.4" x2="794.0" y2="599.1" stroke="#ffffff" stroke-width="1.15" stroke-linecap="butt"/><line x1="778.2" y1="558.4" x2="799.8" y2="595.8" stroke="#ffffff" stroke-width="1.15" stroke-linecap="butt"/><line x1="772.4" y1="573.9" x2="789.2" y2="564.7" stroke="#ffffff" stroke-width="1.15" stroke-linecap="butt"/><line x1="777.7" y1="583.3" x2="794.7" y2="574.0" stroke="#ffffff" stroke-width="1.15" stroke-linecap="butt"/><line x1="782.9" y1="592.8" x2="800.1" y2="583.3" stroke="#ffffff" stroke-width="1.15" stroke-linecap="butt"/>
<line x1="812.0" y1="584.0" x2="828.5" y2="577.9" stroke="#478bbf" stroke-width="1.1" stroke-linecap="butt"/>
<polygon points="802.4,577.2 812.0,572.7 824.2,593.9 814.6,599.0" fill="#478bbf"/><line x1="805.6" y1="575.7" x2="817.8" y2="597.3" stroke="#ffffff" stroke-width="1.15" stroke-linecap="butt"/><line x1="808.8" y1="574.2" x2="821.0" y2="595.6" stroke="#ffffff" stroke-width="1.15" stroke-linecap="butt"/><line x1="804.8" y1="581.6" x2="814.4" y2="576.9" stroke="#ffffff" stroke-width="1.15" stroke-linecap="butt"/><line x1="807.3" y1="585.9" x2="816.9" y2="581.2" stroke="#ffffff" stroke-width="1.15" stroke-linecap="butt"/><line x1="809.7" y1="590.3" x2="819.3" y2="585.4" stroke="#ffffff" stroke-width="1.15" stroke-linecap="butt"/><line x1="812.2" y1="594.6" x2="821.8" y2="589.7" stroke="#ffffff" stroke-width="1.15" stroke-linecap="butt"/>
<polygon points="759.6,507.0 808.0,498.0 816.0,546.0 768.0,552.4" fill="#478bbf"/>
<g transform="rotate(-9 782.4 526.5)"><rect x="766.4" y="504.9" width="4.0" height="4.0" fill="#ffffff"/><rect x="772.0" y="504.9" width="4.0" height="4.0" fill="#ffffff"/><rect x="777.6" y="504.9" width="4.0" height="4.0" fill="#ffffff"/><rect x="783.2" y="504.9" width="4.0" height="4.0" fill="#ffffff"/><rect x="788.8" y="504.9" width="4.0" height="4.0" fill="#ffffff"/><rect x="794.4" y="504.9" width="4.0" height="4.0" fill="#ffffff"/><rect x="766.4" y="510.5" width="4.0" height="4.0" fill="#ffffff"/><rect x="772.0" y="510.5" width="4.0" height="4.0" fill="#ffffff"/><rect x="777.6" y="510.5" width="4.0" height="4.0" fill="#ffffff"/><rect x="783.2" y="510.5" width="4.0" height="4.0" fill="#ffffff"/><rect x="788.8" y="510.5" width="4.0" height="4.0" fill="#ffffff"/><rect x="794.4" y="510.5" width="4.0" height="4.0" fill="#ffffff"/><rect x="766.4" y="516.1" width="4.0" height="4.0" fill="#ffffff"/><rect x="772.0" y="516.1" width="4.0" height="4.0" fill="#ffffff"/><rect x="777.6" y="516.1" width="4.0" height="4.0" fill="#ffffff"/><rect x="783.2" y="516.1" width="4.0" height="4.0" fill="#ffffff"/><rect x="788.8" y="516.1" width="4.0" height="4.0" fill="#ffffff"/><rect x="794.4" y="516.1" width="4.0" height="4.0" fill="#ffffff"/><rect x="766.4" y="521.7" width="4.0" height="4.0" fill="#ffffff"/><rect x="772.0" y="521.7" width="4.0" height="4.0" fill="#ffffff"/><rect x="777.6" y="521.7" width="4.0" height="4.0" fill="#ffffff"/><rect x="783.2" y="521.7" width="4.0" height="4.0" fill="#ffffff"/><rect x="788.8" y="521.7" width="4.0" height="4.0" fill="#ffffff"/><rect x="794.4" y="521.7" width="4.0" height="4.0" fill="#ffffff"/><rect x="766.4" y="527.3" width="4.0" height="4.0" fill="#ffffff"/><rect x="772.0" y="527.3" width="4.0" height="4.0" fill="#ffffff"/><rect x="777.6" y="527.3" width="4.0" height="4.0" fill="#ffffff"/><rect x="783.2" y="527.3" width="4.0" height="4.0" fill="#ffffff"/><rect x="788.8" y="527.3" width="4.0" height="4.0" fill="#ffffff"/><rect x="794.4" y="527.3" width="4.0" height="4.0" fill="#ffffff"/><rect x="766.4" y="532.9" width="4.0" height="4.0" fill="#ffffff"/><rect x="772.0" y="532.9" width="4.0" height="4.0" fill="#ffffff"/><rect x="777.6" y="532.9" width="4.0" height="4.0" fill="#ffffff"/><rect x="783.2" y="532.9" width="4.0" height="4.0" fill="#ffffff"/><rect x="788.8" y="532.9" width="4.0" height="4.0" fill="#ffffff"/><rect x="794.4" y="532.9" width="4.0" height="4.0" fill="#ffffff"/><rect x="766.4" y="538.5" width="4.0" height="4.0" fill="#ffffff"/><rect x="772.0" y="538.5" width="4.0" height="4.0" fill="#ffffff"/><rect x="777.6" y="538.5" width="4.0" height="4.0" fill="#ffffff"/><rect x="783.2" y="538.5" width="4.0" height="4.0" fill="#ffffff"/><rect x="788.8" y="538.5" width="4.0" height="4.0" fill="#ffffff"/><rect x="794.4" y="538.5" width="4.0" height="4.0" fill="#ffffff"/><rect x="766.4" y="544.1" width="4.0" height="4.0" fill="#ffffff"/><rect x="772.0" y="544.1" width="4.0" height="4.0" fill="#ffffff"/><rect x="777.6" y="544.1" width="4.0" height="4.0" fill="#ffffff"/><rect x="783.2" y="544.1" width="4.0" height="4.0" fill="#ffffff"/><rect x="788.8" y="544.1" width="4.0" height="4.0" fill="#ffffff"/><rect x="794.4" y="544.1" width="4.0" height="4.0" fill="#ffffff"/></g>
<polygon points="749.8,539.6 765.1,537.7 767.1,551.5 760.2,553.0" fill="#478bbf"/>
<line x1="747.1" y1="537.9" x2="760.4" y2="555.7" stroke="#478bbf" stroke-width="1.1" stroke-linecap="butt"/>
<g transform="rotate(-9 761.4 545.3)"><rect x="758.4" y="542.3" width="2.6" height="2.6" fill="#ffffff"/><rect x="761.8" y="542.3" width="2.6" height="2.6" fill="#ffffff"/><rect x="758.4" y="545.7" width="2.6" height="2.6" fill="#ffffff"/><rect x="761.8" y="545.7" width="2.6" height="2.6" fill="#ffffff"/></g>
<line x1="752.5" y1="524.8" x2="762.7" y2="523.3" stroke="#478bbf" stroke-width="1.4" stroke-linecap="butt"/>
<circle cx="746.5" cy="526.1" r="5.6" fill="#478bbf"/><circle cx="741.5" cy="524.0" r="3.2" fill="#478bbf"/><circle cx="745.0" cy="520.5" r="3.2" fill="#478bbf"/><circle cx="750.0" cy="520.8" r="3.2" fill="#478bbf"/><circle cx="752.5" cy="525.5" r="3.0" fill="#478bbf"/><circle cx="750.8" cy="530.5" r="3.1" fill="#478bbf"/><circle cx="746.0" cy="532.0" r="3.0" fill="#478bbf"/><circle cx="741.8" cy="529.0" r="3.0" fill="#478bbf"/>
<polygon points="810.8,455.2 759.3,441.8 758.7,444.0 810.2,457.8" fill="#478bbf"/><polygon points="759.2,442.3 755.7,440.0 750.4,436.6 744.1,433.7 737.5,431.6 732.1,430.4 729.0,430.0 727.0,430.4 726.6,431.4 727.7,432.6 731.1,434.2 739.2,437.0 747.4,439.7 754.9,442.1 758.8,443.5" fill="#478bbf" stroke="#478bbf" stroke-width="0.5" stroke-linejoin="round"/><polygon points="759.3,443.4 763.2,442.2 769.0,440.2 775.0,437.2 780.4,433.5 784.6,430.1 786.8,427.9 787.6,426.2 787.1,425.2 785.5,425.3 782.3,426.9 775.3,431.4 768.4,436.0 762.0,440.3 758.7,442.4" fill="#478bbf" stroke="#478bbf" stroke-width="0.5" stroke-linejoin="round"/><polygon points="758.4,442.9 757.2,446.9 755.6,452.9 754.8,459.6 754.8,466.4 755.3,471.8 755.9,474.8 756.8,476.6 758.0,476.6 758.8,475.3 759.2,471.6 759.4,463.2 759.5,454.7 759.5,447.0 759.6,442.9" fill="#478bbf" stroke="#478bbf" stroke-width="0.5" stroke-linejoin="round"/><circle cx="759" cy="442.9" r="1.9800000000000002" fill="#478bbf"/>
<polygon points="805.2,474.6 782.3,469.0 782.1,470.2 804.8,475.8" fill="#478bbf"/><polygon points="782.5,469.6 783.2,467.9 784.1,465.4 784.6,462.5 784.6,459.6 784.4,457.3 784.1,456.0 783.6,455.2 782.9,455.2 782.5,455.7 782.3,457.3 782.1,460.9 782.0,464.5 782.0,467.8 781.9,469.6" fill="#478bbf" stroke="#478bbf" stroke-width="0.5" stroke-linejoin="round"/><polygon points="782.1,469.3 780.1,469.1 777.1,469.0 773.8,469.3 770.7,470.1 768.2,471.0 766.8,471.7 766.1,472.3 766.2,472.9 767.0,473.2 768.8,473.0 772.7,472.2 776.7,471.2 780.3,470.3 782.3,469.9" fill="#478bbf" stroke="#478bbf" stroke-width="0.5" stroke-linejoin="round"/><polygon points="782.0,469.8 782.7,471.4 784.0,473.6 785.7,475.7 787.7,477.5 789.5,478.7 790.7,479.3 791.5,479.4 792.0,478.9 791.9,478.3 790.9,477.1 788.5,474.8 785.9,472.5 783.6,470.5 782.4,469.4" fill="#478bbf" stroke="#478bbf" stroke-width="0.5" stroke-linejoin="round"/><circle cx="782.2" cy="469.6" r="1.08" fill="#478bbf"/>
<polygon points="817.8,437.9 804.7,427.3 804.1,427.9 817.2,438.5" fill="#478bbf"/><polygon points="804.5,427.6 804.7,426.8 804.8,425.7 804.8,424.4 804.6,423.1 804.4,422.1 804.2,421.6 803.9,421.3 803.7,421.3 803.6,421.6 803.6,422.3 803.8,423.8 804.0,425.4 804.2,426.9 804.3,427.6" fill="#478bbf" stroke="#478bbf" stroke-width="0.5" stroke-linejoin="round"/><polygon points="804.4,427.7 805.1,428.0 806.1,428.5 807.3,428.8 808.6,428.9 809.6,428.9 810.1,428.8 810.5,428.6 810.5,428.4 810.3,428.2 809.6,428.1 808.1,427.9 806.6,427.7 805.2,427.6 804.4,427.5" fill="#478bbf" stroke="#478bbf" stroke-width="0.5" stroke-linejoin="round"/><polygon points="804.3,427.5 803.7,427.8 802.7,428.4 801.8,429.1 801.1,429.9 800.5,430.7 800.3,431.2 800.2,431.5 800.4,431.7 800.6,431.6 801.1,431.2 802.1,430.2 803.1,429.1 804.0,428.2 804.5,427.7" fill="#478bbf" stroke="#478bbf" stroke-width="0.5" stroke-linejoin="round"/><circle cx="804.4" cy="427.6" r="1" fill="#478bbf"/>
<polygon points="801.3,401.7 805.3,401.2 834.9,412.5 840.0,416.0 828.0,426.0 801.3,405.2" fill="#478bbf"/>
<circle cx="786.5" cy="394.8" r="19.7" fill="#478bbf"/><circle cx="769.7" cy="383.4" r="8.9" fill="#478bbf"/><circle cx="781.6" cy="375.5" r="7.9" fill="#478bbf"/><circle cx="793.9" cy="375.0" r="8.9" fill="#478bbf"/><circle cx="803.8" cy="383.4" r="8.4" fill="#478bbf"/><circle cx="768.8" cy="398.2" r="8.4" fill="#478bbf"/><circle cx="774.7" cy="411.1" r="8.9" fill="#478bbf"/><circle cx="786.5" cy="413.0" r="8.9" fill="#478bbf"/><circle cx="794.4" cy="407.1" r="8.5" fill="#478bbf"/><circle cx="805.3" cy="393.3" r="6.9" fill="#478bbf"/>
<g transform="translate(851.2 396.7) rotate(-53.7) scale(1.20 1.20)" fill="#478bbf"><circle cx="0" cy="-23" r="3.1"/><rect x="-2.7" y="-18.8" width="5.4" height="10" rx="1.1"/><rect x="-4.4" y="-18.2" width="1.25" height="8.8" rx="0.6"/><rect x="3.15" y="-18.2" width="1.25" height="8.8" rx="0.6"/><rect x="-2.7" y="-9.6" width="2.45" height="9.6"/><rect x="0.25" y="-9.6" width="2.45" height="9.6"/></g>
<g transform="translate(837.6 409.5) rotate(-47.3) scale(1.15 1.15)" fill="#478bbf"><circle cx="0" cy="-23" r="3.1"/><polygon points="-2.7,-18.8 2.7,-18.8 5.3,-7.6 -5.3,-7.6"/><rect x="-4.6" y="-18.2" width="1.3" height="7.2" rx="0.6" transform="rotate(12 -4 -18)"/><rect x="3.3" y="-18.2" width="1.3" height="7.2" rx="0.6" transform="rotate(-12 4 -18)"/><rect x="-2.4" y="-7.8" width="1.7" height="7.8"/><rect x="0.7" y="-7.8" width="1.7" height="7.8"/></g>
<ellipse cx="796.8" cy="354.5" rx="1.8" ry="2.8" transform="rotate(20 796.8 354.5)" fill="#478bbf"/><ellipse cx="792" cy="355.8" rx="2.5" ry="1.8" fill="#478bbf"/><ellipse cx="794" cy="358.5" rx="2" ry="2" fill="#478bbf"/>
<ellipse cx="944.7" cy="499.3" rx="133.3" ry="127.9" fill="#ffffff"/>
<ellipse cx="944.7" cy="499.3" rx="137.3" ry="132" fill="none" stroke="#478bbf" stroke-width="8"/>
<text x="825.5" y="231.3" font-size="34.64" fill="#1b2245" stroke="#1b2245" text-anchor="start" textLength="248.05" lengthAdjust="spacingAndGlyphs" >CONSOMMATION</text>
<text x="806" y="263" font-size="26.2" fill="#1b2245" stroke="#1b2245" text-anchor="start" textLength="286.0" lengthAdjust="spacingAndGlyphs" >UTILISATION DU PRODUIT</text>
<text x="367.0" y="314.7" font-size="36.8" fill="#478bbf" stroke="#478bbf" text-anchor="start" textLength="178.61" lengthAdjust="spacingAndGlyphs" >Expédition</text>
<text x="368.0" y="355.3" font-size="36.8" fill="#478bbf" stroke="#478bbf" text-anchor="start" textLength="167.03" lengthAdjust="spacingAndGlyphs" >du produit</text>
<text x="1353.0" y="299.7" font-size="36.67" fill="#478bbf" stroke="#478bbf" text-anchor="start" textLength="111.21" lengthAdjust="spacingAndGlyphs" >Renvoi</text>
<text x="1335.0" y="339.7" font-size="37.5" fill="#478bbf" stroke="#478bbf" text-anchor="start" textLength="129.62" lengthAdjust="spacingAndGlyphs" >matière</text>
<text x="848.0" y="484.7" font-size="41" fill="#1b2245" stroke="#1b2245" text-anchor="start" textLength="191.86" lengthAdjust="spacingAndGlyphs" >ÉCONOMIE</text>
<text x="832.0" y="531.4" font-size="39.86" fill="#1b2245" stroke="#1b2245" text-anchor="start" textLength="223.53" lengthAdjust="spacingAndGlyphs" >CIRCULAIRE</text>
<text x="845.0" y="749" font-size="29.32" fill="#478bbf" stroke="#478bbf" text-anchor="start" textLength="193.09" lengthAdjust="spacingAndGlyphs" >RECYCLAGE :</text>
<text x="790.5" y="783.3" font-size="29" fill="#478bbf" stroke="#478bbf" text-anchor="start" textLength="303.53" lengthAdjust="spacingAndGlyphs" >100% DE LA MATIÈRE</text>
<text x="798.5" y="814.7" font-size="22.69" fill="#478bbf" stroke="#478bbf" text-anchor="start" textLength="286.52" lengthAdjust="spacingAndGlyphs" >85 % DU PLOMB RECYCLÉ</text>
<text x="707" y="841.1" font-size="22.43" fill="#478bbf" stroke="#478bbf" text-anchor="start" textLength="469.02" lengthAdjust="spacingAndGlyphs" >PROVIENT DES BATTERIES AUTOMOBILES</text>
<text transform="translate(682.7 601.4) rotate(-90)" font-size="35" fill="#1b2245" stroke="#1b2245" textLength="209" lengthAdjust="spacingAndGlyphs">FABRICATION</text>
<text transform="translate(1204.9 419) rotate(90)" font-size="34.3" fill="#1b2245" stroke="#1b2245" textLength="153.8" lengthAdjust="spacingAndGlyphs">AFFINEUR</text>
</svg>
</body></html>
